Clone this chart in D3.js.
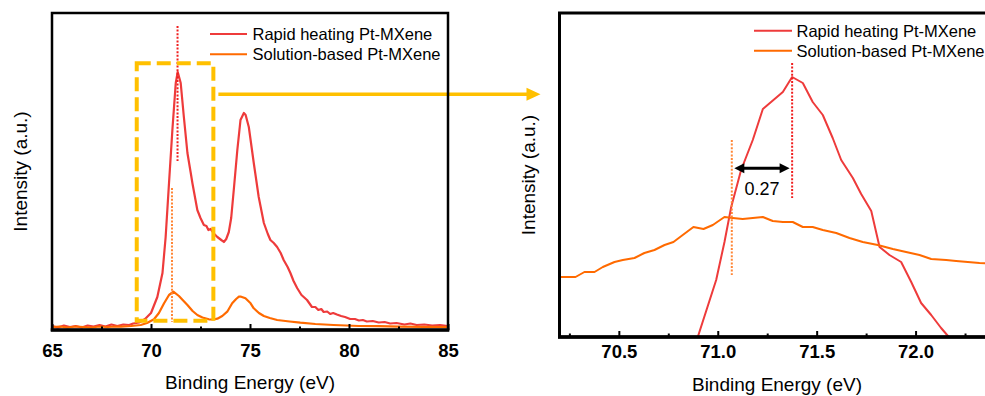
<!DOCTYPE html>
<html><head><meta charset="utf-8">
<script src="https://cdn.jsdelivr.net/npm/d3@7"></script>
<style>body{margin:0;background:#fff}svg{display:block}text{font-family:Arial,"Liberation Sans",sans-serif}</style>
</head><body><svg id="c" width="985" height="396"></svg>
<script>
const seriesNames = ["Rapid heating Pt-MXene", "Solution-based Pt-MXene"];
const seriesColors = ["#EE3B3B", "#FF6A00"];
const leftTicks = [65, 70, 75, 80, 85];
const leftMinor = [67.5, 72.5, 77.5, 82.5];
const rightTicks = [70.5, 71.0, 71.5, 72.0];
const rightMinor = [70.25, 70.75, 71.25, 71.75, 72.25];
const xTitle = "Binding Energy (eV)";
const yTitle = "Intensity (a.u.)";

// full spectrum (binding energy, intensity a.u.)
const rapidFull = [[65.0,4],[65.3,2.5],[65.6,4.5],[65.9,3],[66.2,4],[66.5,2.5],[66.8,4.5],[67.1,3.5],[67.4,5],[67.7,3.5],[68.0,5.5],[68.3,4],[68.6,5.5],[68.9,5],[69.1,6.5],[69.4,7.5],[69.7,11],[70.0,17],[70.32,33],[70.58,57],[70.74,93],[70.91,147],[71.08,200],[71.25,247],[71.35,258],[71.50,247],[71.66,213],[71.84,177],[72.0,158],[72.09,147],[72.34,120],[72.5,112],[72.67,105],[72.8,104],[72.9,100],[73.01,101],[73.2,96],[73.35,93],[73.55,90],[73.68,88],[73.8,91],[73.93,98],[74.05,112],[74.18,140],[74.36,180],[74.52,210],[74.69,217],[74.78,215],[74.94,203],[75.19,167],[75.44,133],[75.70,107],[75.9,96],[76.03,90],[76.2,87],[76.37,83],[76.55,77],[76.7,70],[76.9,63],[77.04,57],[77.2,49],[77.38,42],[77.6,35],[77.88,30],[78.13,23],[78.3,23],[78.45,20],[78.6,21],[78.72,18],[78.9,18.5],[79.05,16],[79.2,17],[79.39,15.5],[79.6,14],[79.8,13],[80.06,11],[80.3,11],[80.5,9.5],[80.7,10],[80.9,8.5],[81.2,9],[81.5,7.5],[81.8,8],[82.08,6.5],[82.4,7],[82.8,5.5],[83.1,6.5],[83.42,5],[83.8,5.5],[84.2,4.5],[84.6,5],[85.0,4]];
const solutionFull = [[65.0,3],[65.4,3.5],[65.8,2.5],[66.2,3.5],[66.6,3],[67.0,2.5],[67.4,3.5],[67.8,3],[68.2,3.5],[68.48,3.3],[69.0,4],[69.48,5],[69.8,7],[70.15,10.7],[70.4,17],[70.66,26.7],[70.91,35],[71.13,38.3],[71.41,34],[71.6,30],[71.84,25],[72.1,19],[72.34,15],[72.6,12.5],[72.92,10.7],[73.15,10.5],[73.35,11.3],[73.6,14],[73.85,18.3],[74.10,26.7],[74.3,31],[74.44,33.3],[74.52,33.5],[74.77,31.7],[75.03,26.7],[75.19,21.7],[75.45,17],[75.70,14],[76.0,12],[76.37,10],[77.0,8.5],[77.54,7.3],[78.3,6],[79.22,5],[80.5,4],[81.5,3.8],[82.58,3.3],[83.8,3.2],[85.0,3]];

// zoomed region (binding energy, intensity a.u.)
const rapidZoom = [[70.88,-12],[70.899,0],[70.992,57],[71.034,95],[71.068,130],[71.118,167],[71.177,197],[71.228,228],[71.329,245],[71.376,260],[71.430,254],[71.480,235],[71.531,222],[71.581,199],[71.624,177],[71.683,159],[71.725,143],[71.776,126],[71.818,90],[71.868,82],[71.927,75],[71.978,55],[72.028,34],[72.079,22],[72.129,9],[72.168,0],[72.18,-4]];
const solutionZoom = [[70.20,60],[70.281,60],[70.326,65],[70.377,65],[70.419,70],[70.478,75],[70.520,77],[70.579,79],[70.629,84],[70.680,87],[70.731,92],[70.776,95],[70.823,102],[70.877,110],[70.928,108],[70.975,112],[71.034,120],[71.076,119],[71.126,118],[71.177,119],[71.228,120],[71.278,116],[71.329,115],[71.379,115],[71.430,110],[71.480,110],[71.531,107],[71.599,104],[71.666,99],[71.733,95],[71.809,92],[71.885,88],[71.952,85],[72.020,82],[72.079,78],[72.155,77],[72.205,76],[72.264,75],[72.323,74],[72.40,73.5]];

// annotations
const leftPeaks = [71.34, 71.06];        // rapid, solution
const rightPeaks = [71.376, 71.071];
const zoomBox = [69.28, 73.15, 9.3, 266.7]; // x0,x1,y0,y1
const shiftLabel = "0.27";

const svg = d3.select("#c");
const font = 'Arial,"Liberation Sans",sans-serif';

const L = {x: d3.scaleLinear().domain([65, 85]).range([52, 448]),
           y: d3.scaleLinear().domain([0, 317]).range([330, 13])};
const R = {x: d3.scaleLinear().domain([70.2, 72.4]).range([559.5, 994.7]),
           y: d3.scaleLinear().domain([0, 324]).range([337, 13])};

function clip(id, P) {
  svg.append("clipPath").attr("id", id).append("rect")
    .attr("x", P.x.range()[0]).attr("y", P.y.range()[1])
    .attr("width", P.x.range()[1] - P.x.range()[0])
    .attr("height", P.y.range()[0] - P.y.range()[1]);
}
clip("cl", L); clip("cr", R);

function drawCurves(P, data, cid, w) {
  const line = d3.line().x(d => P.x(d[0])).y(d => P.y(d[1]));
  const g = svg.append("g").attr("clip-path", `url(#${cid})`);
  data.forEach((d, i) => {
    g.append("path").attr("d", line(d)).attr("fill", "none")
      .attr("stroke", seriesColors[i]).attr("stroke-width", w)
      .attr("stroke-linejoin", "round");
  });
}

function drawAxes(P, ticks, minor, fmt, pad, fw, lw) {
  const y0 = P.y.range()[0];
  const gx = svg.append("g").attr("transform", `translate(0,${y0})`)
    .call(d3.axisBottom(P.x).tickValues(ticks).tickFormat(fmt).tickSizeInner(-6).tickSizeOuter(0).tickPadding(pad));
  gx.select(".domain").remove();
  gx.selectAll(".tick line").attr("stroke", "#000").attr("stroke-width", 2);
  gx.selectAll("text").attr("font-size", 18.5).attr("font-weight", "bold").attr("fill", "#000").attr("font-family", font);
  const gm = svg.append("g").attr("transform", `translate(0,${y0})`)
    .call(d3.axisBottom(P.x).tickValues(minor).tickFormat("").tickSizeInner(-3.5).tickSizeOuter(0));
  gm.select(".domain").remove();
  gm.selectAll(".tick line").attr("stroke", "#000").attr("stroke-width", 2);
  const [x0, x1] = P.x.range(), [yb, yt] = P.y.range();
  svg.append("rect").attr("x", x0).attr("y", yt).attr("width", x1 - x0).attr("height", yb - yt)
    .attr("fill", "none").attr("stroke", "#000").attr("stroke-width", fw);
  svg.append("line").attr("x1", x0 - fw/2).attr("x2", x1 + fw/2).attr("y1", yb).attr("y2", yb)
    .attr("stroke", "#000").attr("stroke-width", lw);
}

function legend(lx0, lx1, ys, tx) {
  seriesNames.forEach((n, i) => {
    svg.append("line").attr("x1", lx0).attr("x2", lx1).attr("y1", ys[i]).attr("y2", ys[i])
      .attr("stroke", seriesColors[i]).attr("stroke-width", 2);
    svg.append("text").attr("x", tx).attr("y", ys[i] + 6).attr("font-size", 16.5)
      .attr("fill", "#000").text(n);
  });
}

function vDotted(P, x, i0, i1, color) {
  svg.append("line").attr("x1", P.x(x)).attr("x2", P.x(x))
    .attr("y1", P.y(i0)).attr("y2", P.y(i1)).attr("stroke", color)
    .attr("stroke-width", 2).attr("stroke-dasharray", "2,1.6");
}

// ---- left panel ----
drawCurves(L, [rapidFull, solutionFull], "cl", 2.2);
vDotted(L, leftPeaks[0], 304, 169, "#F01E1E");
vDotted(L, leftPeaks[1], 142, 8, "#FF8636");
svg.append("rect").attr("x", L.x(zoomBox[0])).attr("y", L.y(zoomBox[3]))
  .attr("width", L.x(zoomBox[1]) - L.x(zoomBox[0])).attr("height", L.y(zoomBox[2]) - L.y(zoomBox[3]))
  .attr("fill", "none").attr("stroke", "#FFC000").attr("stroke-width", 4).attr("stroke-dasharray", "14,6");
const ay = L.y(235.7), ax0 = L.x(zoomBox[1]) + 5, ax1 = R.x.range()[0] - 19;
svg.append("line").attr("x1", ax0).attr("x2", ax1 - 12).attr("y1", ay).attr("y2", ay)
  .attr("stroke", "#FFC000").attr("stroke-width", 3.5);
svg.append("path").attr("d", `M${ax1},${ay} L${ax1 - 14},${ay - 6.5} L${ax1 - 14},${ay + 6.5} Z`).attr("fill", "#FFC000");

drawAxes(L, leftTicks, leftMinor, d3.format("d"), 14, 2.5, 3.5);
legend(210, 247, [34, 54.3], 252.5);
svg.append("text").attr("x", 250).attr("y", 388.5).attr("text-anchor", "middle")
  .attr("font-size", 19).attr("fill", "#000").text(xTitle);
svg.append("text").attr("transform", `translate(27,${(L.y.range()[0] + L.y.range()[1]) / 2}) rotate(-90)`)
  .attr("text-anchor", "middle").attr("font-size", 19).attr("fill", "#000").text(yTitle);

// ---- right panel ----
drawCurves(R, [rapidZoom, solutionZoom], "cr", 2);
vDotted(R, rightPeaks[0], 274, 139, "#F01E1E");
vDotted(R, rightPeaks[1], 197, 62, "#FF8636");
const by = R.y(168.7), bx0 = R.x(rightPeaks[1]) + 2.5, bx1 = R.x(rightPeaks[0]) - 2.5;
svg.append("line").attr("x1", bx0 + 8).attr("x2", bx1 - 8).attr("y1", by).attr("y2", by)
  .attr("stroke", "#000").attr("stroke-width", 3);
svg.append("path").attr("d", `M${bx0},${by} L${bx0 + 10},${by - 5} L${bx0 + 10},${by + 5} Z`).attr("fill", "#000");
svg.append("path").attr("d", `M${bx1},${by} L${bx1 - 10},${by - 5} L${bx1 - 10},${by + 5} Z`).attr("fill", "#000");
svg.append("text").attr("x", (bx0 + bx1) / 2).attr("y", R.y(142)).attr("text-anchor", "middle")
  .attr("font-size", 18).attr("fill", "#000").text(shiftLabel);

drawAxes(R, rightTicks, rightMinor, d3.format(".1f"), 8, 3, 3.5);
legend(754, 792, [30.7, 50.7], 796.5);
svg.append("text").attr("x", 777).attr("y", 390.5).attr("text-anchor", "middle")
  .attr("font-size", 19).attr("fill", "#000").text(xTitle);
svg.append("text").attr("transform", `translate(535,${(R.y.range()[0] + R.y.range()[1]) / 2}) rotate(-90)`)
  .attr("text-anchor", "middle").attr("font-size", 19).attr("fill", "#000").text(yTitle);
</script></body></html>
